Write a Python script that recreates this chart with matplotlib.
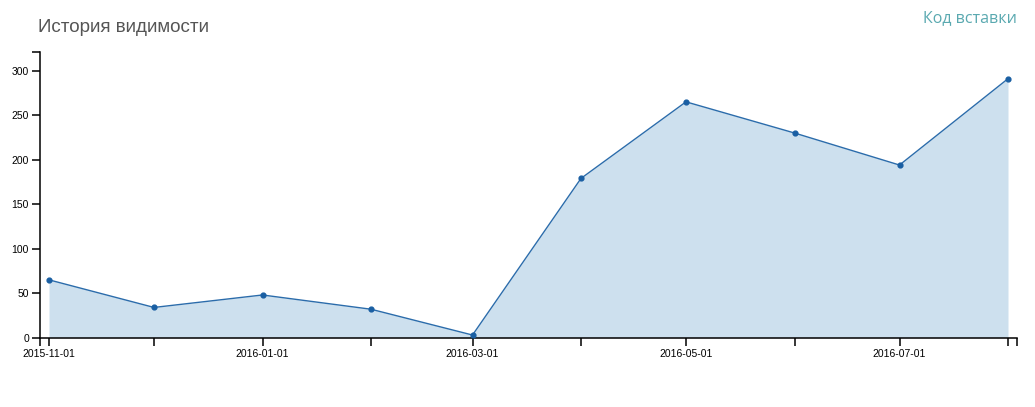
import numpy as np
import pandas as pd
import matplotlib
matplotlib.use('Agg')
import matplotlib.pyplot as plt
import matplotlib.dates as mdates

dates = pd.to_datetime(['2015-11-01', '2015-12-01', '2016-01-01', '2016-02-01', '2016-03-01',
                        '2016-04-01', '2016-05-01', '2016-06-01', '2016-07-01', '2016-08-01'])
views = [65, 34, 48, 32, 3, 179, 265, 230, 194, 291]
label_dates = ['2015-11-01', '2016-01-01', '2016-03-01', '2016-05-01', '2016-07-01']
y_ticks = [0, 50, 100, 150, 200, 250, 300]

plt.rcParams['font.family'] = ['Liberation Sans', 'DejaVu Sans']

fig = plt.figure(figsize=(10.35, 4.07), dpi=100)
ax = fig.add_axes([40 / 1035, (407 - 337.7) / 407, 977 / 1035, (337.7 - 52) / 407])

x = mdates.date2num(dates)
ax.fill_between(x, views, 0, color='#cde0ee', lw=0)
ax.plot(x, views, color='#2b6cab', lw=1)
ax.scatter(x, views, s=12, color='#1a5fa3', zorder=3)

pad = 9 / (959 / (x[-1] - x[0]))
xmin, xmax = x[0] - pad, x[-1] + pad
ax.set_xlim(xmin, xmax)
ax.set_ylim(0, 321)

ax.set_xticks(mdates.date2num(pd.to_datetime(label_dates)))
ax.set_xticklabels(label_dates)
minor = [v for v in x if mdates.num2date(v).strftime('%Y-%m-%d') not in label_dates]
ax.set_xticks(minor + [xmin, xmax], minor=True)
ax.set_yticks(y_ticks + [321])
ax.set_yticklabels([str(v) for v in y_ticks] + [''])

for s in ['top', 'right']:
    ax.spines[s].set_visible(False)
for s in ['left', 'bottom']:
    ax.spines[s].set_linewidth(1.1)
ax.tick_params(axis='both', which='both', length=6, width=1.1, labelsize=7.5, pad=2)

fig.text(38 / 1035, 1 - 28 / 407, 'История видимости', fontsize=13.5, color='#555555',
         va='center', ha='left')
fig.text(1017 / 1035, 1 - 18 / 407, 'Код вставки', fontsize=11.5, color='#5aa9b0',
         va='center', ha='right', family=['Open Sans', 'DejaVu Sans'])

fig.savefig('out.png', dpi=100)
